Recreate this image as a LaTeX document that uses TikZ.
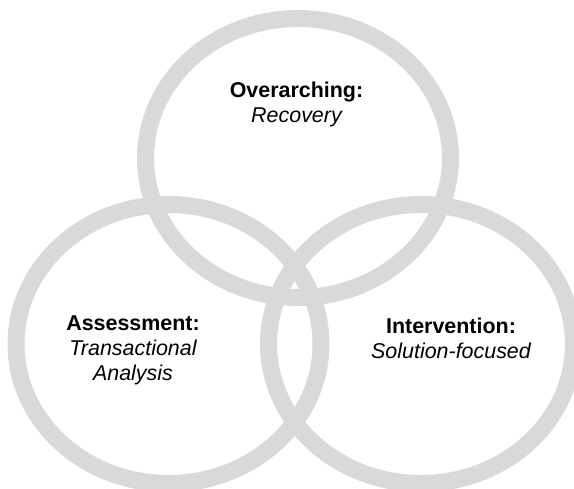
\documentclass[tikz,border=0pt]{standalone}
\usepackage{fontspec}
\setmainfont{Liberation Sans}
\usepackage{tikz}
\usetikzlibrary{shapes.geometric, positioning}
\definecolor{ringgray}{HTML}{D9D9D9}
\definecolor{labeltext}{HTML}{000000}
\tikzset{
  % Venn rings
  ring/.style={
    ellipse, draw=ringgray, line width=0.34cm, inner sep=0pt,
    minimum width=6.1cm, minimum height=5.58cm,
  },
  % Labels inside the rings
  ringlabel/.style={
    font=\fontsize{12.2pt}{14.2pt}\selectfont, text=labeltext,
    align=center, inner sep=0pt,
  },
}
\begin{document}
\begin{tikzpicture}[x=0.02cm, y=-0.02cm]

  \useasboundingbox (0,0) rectangle (574,489);
  \clip (0,0) rectangle (574,489);

  % Rings
  \node[ring] (top-ring) at (298,158) {};
  \node[ring] (left-ring) at (168.5,344) {};
  \node[ring] (right-ring) at (421,344) {};

  % Labels
  \node[ringlabel] (top-label) at (296.5,104) {
    \textbf{Overarching:}\\{\itshape Recovery}
  };
  \node[ringlabel] (left-label) at (133,350) {
    \textbf{Assessment:}\\{\itshape Transactional}\\{\itshape Analysis}
  };
  \node[ringlabel] (right-label) at (451,338) {
    \textbf{Intervention:}\\{\itshape Solution-focused}
  };

\end{tikzpicture}
\end{document}
